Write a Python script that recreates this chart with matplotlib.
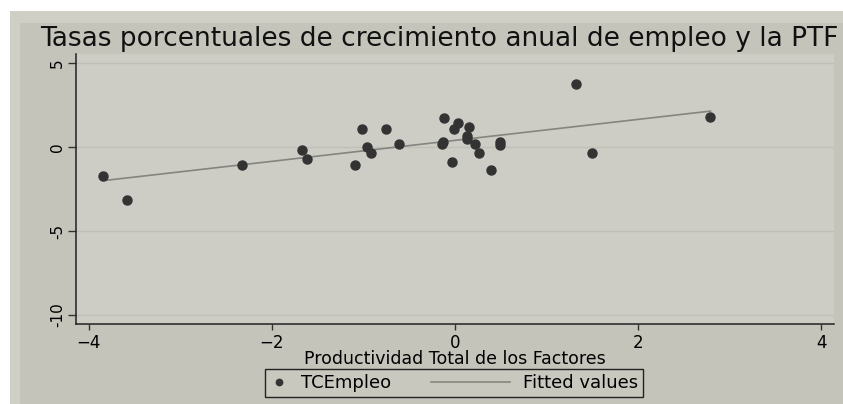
import numpy as np
import matplotlib.pyplot as plt
from matplotlib.patches import Rectangle
from matplotlib.lines import Line2D
from matplotlib.legend_handler import HandlerLine2D

# Data
ptf = [-3.85, -3.58, -2.33, -1.67, -1.62, -1.09, -1.02, -0.96, -0.92, -0.75,
       -0.61, -0.12, -0.13, -0.14, -0.03, -0.01, 0.03, 0.15, 0.13, 0.13,
       0.22, 0.26, 0.39, 0.49, 0.49, 1.32, 1.50, 2.79]
tc_empleo = [-1.74, -3.17, -1.07, -0.18, -0.71, -1.05, 1.05, 0.0, -0.36, 1.05,
             0.18, 1.74, 0.3, 0.18, -0.88, 1.07, 1.43, 1.2, 0.66, 0.5,
             0.18, -0.36, -1.38, 0.32, 0.15, 3.75, -0.36, 1.79]
xticks = [-4, -2, 0, 2, 4]
yticks = [5, 0, -5, -10]

titulo = "Tasas porcentuales de crecimiento anual de empleo y la PTF"

# Linear fit (Fitted values)
b, a = np.polyfit(ptf, tc_empleo, 1)
xf = np.array([min(ptf), max(ptf)])
yf = a + b * xf


class LongLine(HandlerLine2D):
    # line handle that reaches further left than the marker handle
    def create_artists(self, legend, orig_handle, xdescent, ydescent,
                       width, height, fontsize, trans):
        y = (height - ydescent) / 2
        ln = Line2D([-xdescent - 3.4 * fontsize, -xdescent + width], [y, y],
                    color=orig_handle.get_color(), lw=orig_handle.get_linewidth())
        ln.set_transform(trans)
        return [ln]


W, H = 843, 404
fig = plt.figure(figsize=(W / 100, H / 100), dpi=100)
fig.patch.set_facecolor("white")
plt.rcParams["font.family"] = ["DejaVu Sans"]

# Stata-like graph region backgrounds
fig.patches.append(Rectangle((10 / W, 0), 1, 1 - 11 / H, transform=fig.transFigure,
                             facecolor="#cfcfc6", edgecolor="none", zorder=-3))
fig.patches.append(Rectangle((20 / W, 0), 1, 1 - 23 / H, transform=fig.transFigure,
                             facecolor="#c4c4bb", edgecolor="none", zorder=-2))

ax = fig.add_axes([76 / W, 1 - 324 / H, (834 - 76) / W, (324 - 54) / H])
ax.set_facecolor("#cdcdc5")

fit_line, = ax.plot(xf, yf, color="#858580", lw=1.2, zorder=2)
pts, = ax.plot(ptf, tc_empleo, "o", color="#333333", ms=6.5, zorder=3,
               linestyle="none")

ax.set_xlim(-4.14, 4.14)
ax.set_ylim(-10.54, 5.54)
ax.set_xticks(xticks)
ax.set_yticks(yticks)
ax.set_yticklabels([str(t) for t in yticks], rotation=90, va="center")
ax.grid(axis="y", color="#c0c0b7", lw=1)
ax.set_axisbelow(True)

for s in ["top", "right"]:
    ax.spines[s].set_visible(False)
for s in ["left", "bottom"]:
    ax.spines[s].set_color("#222222")
    ax.spines[s].set_linewidth(1.1)
ax.tick_params(axis="y", length=6, width=1, color="#333333", labelsize=11, pad=2)
ax.tick_params(axis="x", length=4, width=1, color="#333333", labelsize=12, pad=3)

ax.set_xlabel("Productividad Total de los Factores", fontsize=12.5, labelpad=-1)
fig.text(40 / W, 1 - 39 / H, titulo, fontsize=19, va="center", ha="left",
         color="#111111")

leg = fig.legend([pts, fit_line], ["TCEmpleo", "Fitted values"], loc="center",
                 bbox_to_anchor=(454 / W, 1 - 383 / H), ncol=2, fontsize=13,
                 frameon=True, fancybox=False, edgecolor="#222222",
                 facecolor="#c8c8bf", framealpha=1, handlelength=1.0,
                 columnspacing=5.6, borderpad=0.3, handletextpad=0.7,
                 markerscale=0.7, handler_map={fit_line: LongLine()})
leg.get_frame().set_linewidth(1)

fig.savefig("out.png", dpi=100, facecolor=fig.get_facecolor())
